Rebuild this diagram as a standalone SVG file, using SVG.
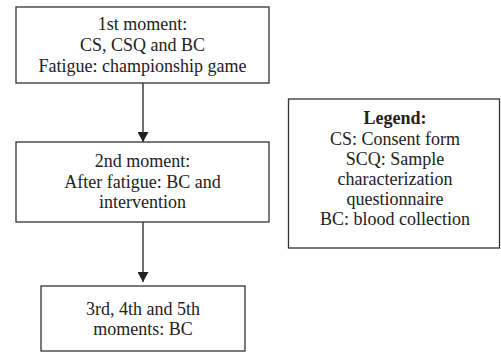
<svg xmlns="http://www.w3.org/2000/svg" width="501" height="352" viewBox="0 0 501 352">
<style>
.box{fill:#fff;stroke:#333;stroke-width:1.3}
.t{font-family:"Liberation Serif",Tinos,"Times New Roman",Times,"DejaVu Serif",serif;font-size:18px;fill:#222;text-anchor:middle}
.b{font-weight:bold}
.c{stroke:#222;stroke-width:1.3;fill:none}
</style>
<defs>
<marker id="ah" viewBox="0 0 10 11" refX="10" refY="5.5" markerWidth="10" markerHeight="11" markerUnits="userSpaceOnUse" orient="auto">
<path d="M0,0 L10,5.5 L0,11 Z" fill="#222"/>
</marker>
</defs>
<rect width="501" height="352" fill="#fff"/>
<g id="connectors">
<line class="c" x1="143" y1="83" x2="143" y2="142" marker-end="url(#ah)"/>
<line class="c" x1="143" y1="222" x2="143" y2="282" marker-end="url(#ah)"/>
</g>
<g id="node1">
<rect class="box" x="16" y="7" width="253" height="76"/>
<text class="t" x="142.5" y="30">1st moment:</text>
<text class="t" x="142.5" y="51">CS, CSQ and BC</text>
<text class="t" x="142.5" y="72">Fatigue: championship game</text>
</g>
<g id="node2">
<rect class="box" x="16" y="142" width="253" height="80"/>
<text class="t" x="142.5" y="167">2nd moment:</text>
<text class="t" x="142.5" y="187.5">After fatigue: BC and</text>
<text class="t" x="142.5" y="208">intervention</text>
</g>
<g id="node3">
<rect class="box" x="41" y="286" width="204" height="65"/>
<text class="t" x="143" y="315">3rd, 4th and 5th</text>
<text class="t" x="143" y="335">moments: BC</text>
</g>
<g id="legend">
<rect class="box" x="288.5" y="99" width="211" height="149"/>
<text class="t b" x="395" y="124">Legend:</text>
<text class="t" x="395" y="144.5">CS: Consent form</text>
<text class="t" x="395" y="165">SCQ: Sample</text>
<text class="t" x="395" y="185">characterization</text>
<text class="t" x="395" y="205">questionnaire</text>
<text class="t" x="395" y="225">BC: blood collection</text>
</g>
</svg>
